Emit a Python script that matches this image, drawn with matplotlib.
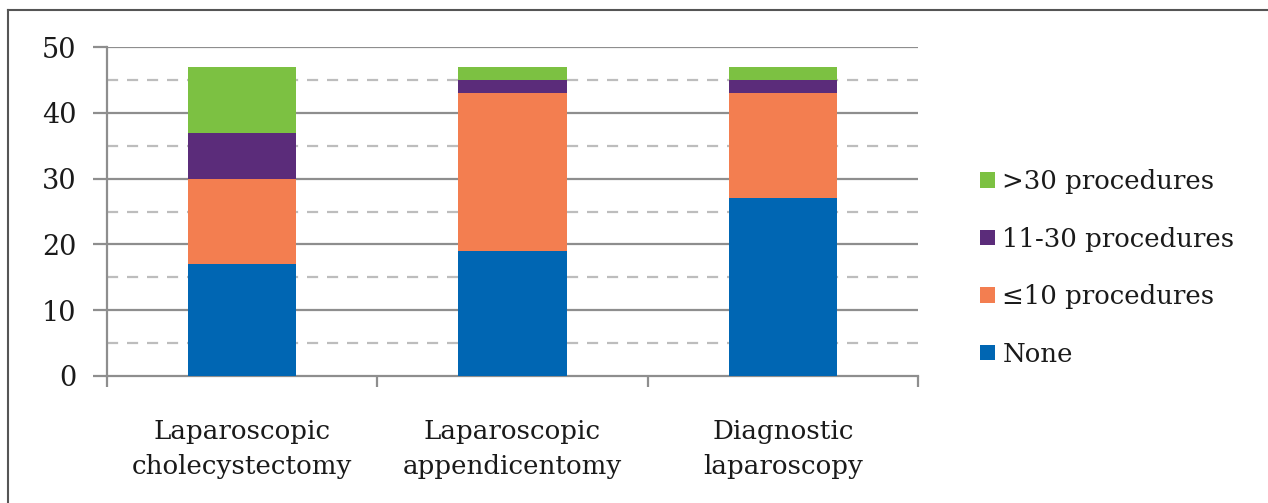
import matplotlib
matplotlib.use("Agg")
import matplotlib.pyplot as plt
from matplotlib.lines import Line2D
import numpy as np

categories = ["Laparoscopic\ncholecystectomy", "Laparoscopic\nappendicentomy", "Diagnostic\nlaparoscopy"]
series_names = ["None", "\u226410 procedures", "11-30 procedures", ">30 procedures"]
none_vals = [17, 19, 27]
le10_vals = [13, 24, 16]
mid_vals = [7, 2, 2]
gt30_vals = [10, 2, 2]
colors = ["#0066b3", "#f37e50", "#5b2c7a", "#7cc142"]
yticks = [0, 10, 20, 30, 40, 50]

plt.rcParams['font.family'] = ['DejaVu Serif']

fig = plt.figure(figsize=(12.68, 5.03), dpi=100)
ax = fig.add_axes([107/1268, 1-376/503, (918-107)/1268, (376-47)/503])

x = np.arange(len(categories))
bottom = np.zeros(len(categories))
handles = []
for vals, name, c in zip([none_vals, le10_vals, mid_vals, gt30_vals], series_names, colors):
    b = ax.bar(x, vals, width=0.4, bottom=bottom, color=c, label=name, zorder=3)
    bottom += np.array(vals)
    handles.append(b)

ax.set_xlim(-0.5, 2.5)
ax.set_ylim(0, 50)
for v in range(10, 51, 10):
    ax.axhline(v, color="#8e8e8e", lw=1.6, zorder=1)
for v in range(5, 50, 10):
    ax.axhline(v, color="#bdbdbd", lw=1.6, ls=(0, (5, 4)), zorder=1)

ax.set_yticks(yticks)
ax.set_yticklabels([str(t) for t in yticks], fontsize=19.5, color="#1a1a1a")
ax.set_xticks(x)
ax.set_xticklabels(categories, fontsize=18.8, linespacing=1.5, color="#1a1a1a")
ax.tick_params(axis='x', length=0, pad=31)
ax.tick_params(axis='y', length=10, width=1.6, color="#8e8e8e", pad=12)
# boundary ticks between categories
ax.set_xticks([-0.5, 0.5, 1.5, 2.5], minor=True)
ax.tick_params(axis='x', which='minor', length=8, width=1.6, color="#8e8e8e", direction='out')

for s in ["top", "right"]:
    ax.spines[s].set_visible(False)
for s in ["left", "bottom"]:
    ax.spines[s].set_color("#8e8e8e")
    ax.spines[s].set_linewidth(1.6)

leg = fig.legend(handles[::-1], series_names[::-1], loc="center left",
                 bbox_to_anchor=(957/1268, 1-268/503), frameon=False,
                 fontsize=18.7, handlelength=0.55, handleheight=0.55,
                 handletextpad=0.3, labelspacing=1.25)
for t in leg.get_texts():
    t.set_color("#1a1a1a")

# figure border (top and left)
fig.add_artist(Line2D([8/1268, 1], [1-10/503, 1-10/503], color="#555555", lw=1.5, transform=fig.transFigure))
fig.add_artist(Line2D([8/1268, 8/1268], [0, 1-10/503], color="#555555", lw=1.5, transform=fig.transFigure))

fig.savefig("out.png", dpi=100)
